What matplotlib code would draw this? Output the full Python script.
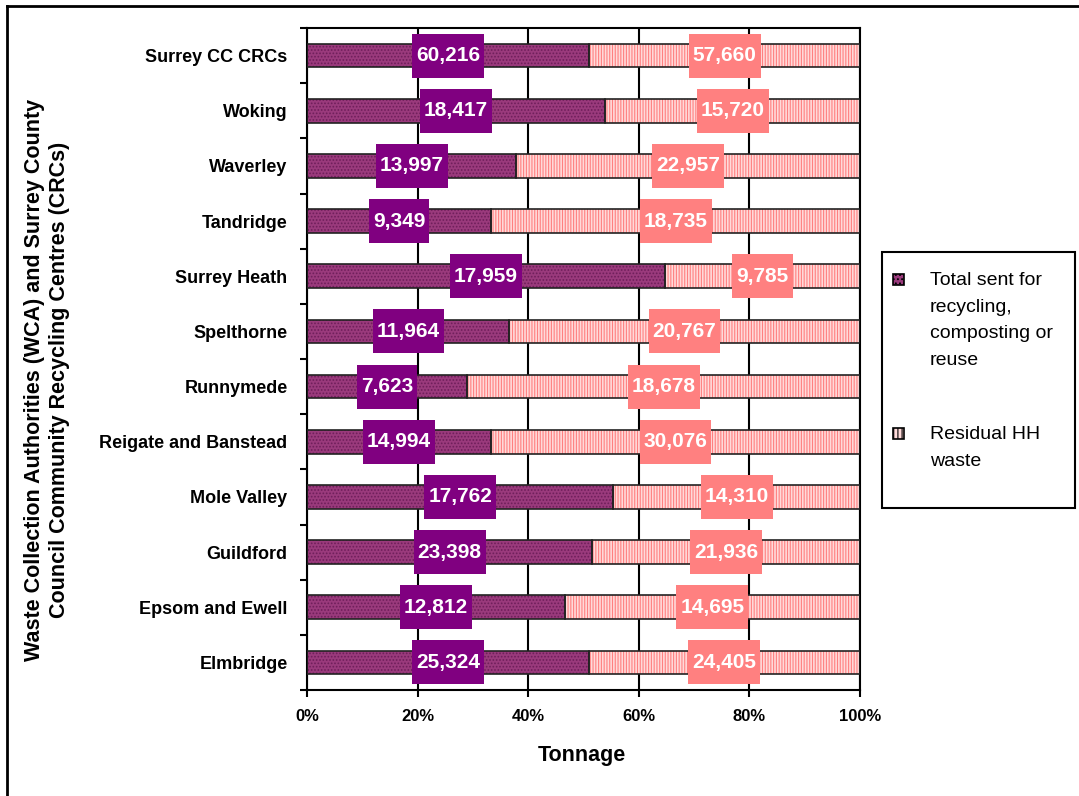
import numpy as np
import matplotlib
matplotlib.use("Agg")
import matplotlib.pyplot as plt
from matplotlib.patches import Rectangle
from matplotlib.lines import Line2D

plt.rcParams['font.family'] = ['Liberation Sans', 'DejaVu Sans']
plt.rcParams['hatch.linewidth'] = 0.8

## Data (top to bottom)
categories = ['Surrey CC CRCs', 'Woking', 'Waverley', 'Tandridge', 'Surrey Heath',
              'Spelthorne', 'Runnymede', 'Reigate and Banstead', 'Mole Valley',
              'Guildford', 'Epsom and Ewell', 'Elmbridge']
recycled = [60216, 18417, 13997, 9349, 17959, 11964, 7623, 14994, 17762, 23398, 12812, 25324]
residual = [57660, 15720, 22957, 18735, 9785, 20767, 18678, 30076, 14310, 21936, 14695, 24405]
series_names = ['Total sent for\nrecycling,\ncomposting or\nreuse', 'Residual HH\nwaste']
xticks = [0, 20, 40, 60, 80, 100]

rec = np.array(recycled, dtype=float)
res = np.array(residual, dtype=float)
tot = rec + res
rec_pct = rec / tot * 100
res_pct = res / tot * 100
y = np.arange(len(categories))

W, H = 1079, 796
fig = plt.figure(figsize=(W/100, H/100), dpi=100)
ax = fig.add_axes([307/W, 1-690/H, 553/W, 662/H])

h = 0.43
purple_face, purple_hatch = '#9A3A7C', '#6E1E5A'
pink_face, pink_hatch = '#FFDADA', '#FF8080'

# fills with hatching, then outline
ax.barh(y, rec_pct, height=h, color=purple_face, edgecolor=purple_hatch, hatch='.....', lw=0, zorder=2)
ax.barh(y, res_pct, left=rec_pct, height=h, color=pink_face, edgecolor=pink_hatch, hatch='||||||', lw=0, zorder=2)
ax.barh(y, rec_pct, height=h, fill=False, edgecolor='#222222', lw=1.2, zorder=3)
ax.barh(y, res_pct, left=rec_pct, height=h, fill=False, edgecolor='#222222', lw=1.2, zorder=3)

ax.set_xlim(0, 100)
ax.set_ylim(len(categories) - 0.5, -0.5)

labels = []
for i in range(len(categories)):
    t1 = ax.text(rec_pct[i] / 2, y[i], f'{recycled[i]:,}', ha='center', va='center',
                 color='white', fontsize=15, fontweight='bold', zorder=5)
    t2 = ax.text(rec_pct[i] + res_pct[i] / 2, y[i], f'{residual[i]:,}', ha='center', va='center',
                 color='white', fontsize=15, fontweight='bold', zorder=5)
    labels.append((t1, '#800080', y[i]))
    labels.append((t2, '#FF8080', y[i]))

ax.set_xticks(xticks)
ax.set_xticklabels([f'{t}%' for t in xticks], fontsize=12, fontweight='bold')
ax.set_yticks(y)
ax.set_yticklabels(categories, fontsize=13, fontweight='bold')
ax.set_yticks(np.arange(-0.5, len(categories)), minor=True)
ax.tick_params(axis='y', which='major', length=0, pad=14)
ax.tick_params(axis='y', which='minor', length=5, width=1.5, direction='out')
ax.tick_params(axis='x', length=5, width=1.5, direction='out', pad=9)
ax.grid(axis='x', color='black', lw=1.5, zorder=1)
ax.set_axisbelow(True)
for s in ['left', 'bottom', 'right', 'top']:
    ax.spines[s].set_linewidth(1.5)

ax.set_xlabel('Tonnage', fontsize=15.5, fontweight='bold')
ax.xaxis.set_label_coords(0.497, -0.083)
fig.text(47/W, 1-380/H, 'Waste Collection Authorities (WCA) and Surrey County\nCouncil Community Recycling Centres (CRCs)',
         rotation=90, ha='center', va='center', fontsize=15.5, fontweight='bold', linespacing=1.3)

# label boxes sized from the rendered text
fig.canvas.draw()
inv = ax.transData.inverted()
for t, col, yc in labels:
    bb = t.get_window_extent()
    cy = ax.transData.transform((0, yc))[1]
    (x0, y0), (x1, y1) = inv.transform([(bb.x0 - 4, cy - 22), (bb.x1 + 4, cy + 22)])
    ax.add_patch(Rectangle((x0, y1), x1 - x0, y0 - y1, fc=col, ec='none', zorder=4))

# legend drawn by hand
fig.patches.append(Rectangle((882/W, 1-508/H), 193/W, 256/H, transform=fig.transFigure,
                             fill=False, ec='black', lw=1.5))
leg_y = [279, 433]
leg_style = [(purple_face, '....'), (pink_face, '||||')]
for ly, name, (fc, ht) in zip(leg_y, series_names, leg_style):
    fig.patches.append(Rectangle((893/W, 1-(ly+5.5)/H), 11/W, 11/H, transform=fig.transFigure,
                                 fc=fc, ec='black', hatch=ht, lw=1.2))
    fig.text(930/W, 1-(ly-7)/H, name, ha='left', va='top', fontsize=14, linespacing=1.75)

# outer border
fig.add_artist(Line2D([7/W, 7/W], [0, 1-6/H], transform=fig.transFigure, color='black', lw=2))
fig.add_artist(Line2D([7/W, 1], [1-6/H, 1-6/H], transform=fig.transFigure, color='black', lw=2))

fig.savefig('out.png', dpi=100)
